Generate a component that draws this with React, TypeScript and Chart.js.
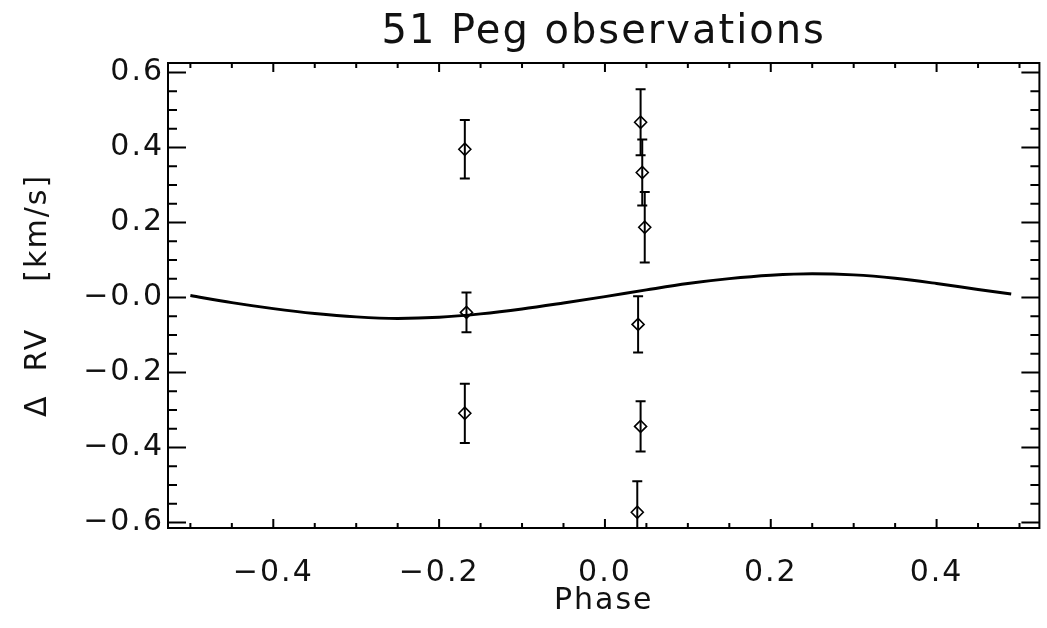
import React, { useEffect, useRef } from "react";
import { Chart, registerables } from "chart.js";

Chart.register(...registerables);

const TITLE = "51 Peg observations";
const X_TITLE = "Phase";
const Y_TITLE = "Δ  RV    [km/s]";

// Observations: phase, ΔRV [km/s], 1σ error
const PHASE_OBS = [-0.169, -0.167, -0.169, 0.043, 0.045, 0.048, 0.040, 0.043, 0.039];
const RV_OBS = [0.395, -0.040, -0.309, 0.467, 0.333, 0.187, -0.072, -0.344, -0.573];
const RV_ERR = [0.078, 0.053, 0.079, 0.088, 0.088, 0.094, 0.075, 0.067, 0.083];

// Orbit model curve
const PHASE_MODEL = [-0.5, -0.45, -0.4, -0.35, -0.3, -0.25, -0.2, -0.15, -0.1, -0.05, 0.0, 0.05, 0.1, 0.15, 0.2, 0.25, 0.3, 0.35, 0.4, 0.45, 0.49];
const RV_MODEL = [0.005, -0.014, -0.030, -0.043, -0.052, -0.056, -0.053, -0.044, -0.031, -0.015, 0.002, 0.020, 0.037, 0.050, 0.059, 0.063, 0.060, 0.051, 0.037, 0.021, 0.009];

const X_RANGE = [-0.527, 0.524];
const Y_RANGE = [-0.615, 0.625];

const X_TICKS = [-0.4, -0.2, 0.0, 0.2, 0.4];
const X_TICK_LABELS = ["−0.4", "−0.2", "0.0", "0.2", "0.4"];
const X_MINOR = [-0.5, -0.45, -0.35, -0.3, -0.25, -0.15, -0.1, -0.05, 0.05, 0.1, 0.15, 0.25, 0.3, 0.35, 0.45, 0.5];
const Y_TICKS = [-0.6, -0.4, -0.2, 0.0, 0.2, 0.4, 0.6];
const Y_TICK_LABELS = ["−0.6", "−0.4", "−0.2", "−0.0", "0.2", "0.4", "0.6"];
const Y_MINOR = [-0.55, -0.5, -0.45, -0.35, -0.3, -0.25, -0.15, -0.1, -0.05, 0.05, 0.1, 0.15, 0.25, 0.3, 0.35, 0.45, 0.5, 0.55];

const FONT = "DejaVu Sans";
const INK = "#111";

const labelFor = (ticks: number[], labels: string[], v: number) => {
  const i = ticks.findIndex((t) => Math.abs(t - v) < 1e-9);
  return i >= 0 ? labels[i] : "";
};

const idlFrame = {
  id: "idlFrame",
  beforeUpdate(chart: any) {
    chart.ctx.letterSpacing = "2px";
  },
  beforeDraw(chart: any) {
    chart.ctx.letterSpacing = "2px";
  },
  beforeDatasetsDraw(chart: any) {
    const { ctx, chartArea: a, scales } = chart;
    const xs = scales.x;
    const ys = scales.y;
    ctx.save();
    ctx.beginPath();
    ctx.rect(a.left, a.top, a.right - a.left, a.bottom - a.top);
    ctx.clip();
    ctx.strokeStyle = "#000";
    ctx.lineWidth = 2;
    PHASE_OBS.forEach((p, i) => {
      const x = xs.getPixelForValue(p);
      const y1 = ys.getPixelForValue(RV_OBS[i] + RV_ERR[i]);
      const y2 = ys.getPixelForValue(RV_OBS[i] - RV_ERR[i]);
      ctx.beginPath();
      ctx.moveTo(x, y1);
      ctx.lineTo(x, y2);
      ctx.moveTo(x - 5, y1);
      ctx.lineTo(x + 5, y1);
      ctx.moveTo(x - 5, y2);
      ctx.lineTo(x + 5, y2);
      ctx.stroke();
    });
    ctx.restore();
  },
  afterDraw(chart: any) {
    const { ctx, chartArea: a, scales } = chart;
    const xs = scales.x;
    const ys = scales.y;
    ctx.save();
    ctx.strokeStyle = "#000";
    ctx.lineWidth = 2;
    ctx.strokeRect(a.left, a.top, a.right - a.left, a.bottom - a.top);
    ctx.beginPath();
    const xTick = (v: number, len: number) => {
      const x = xs.getPixelForValue(v);
      ctx.moveTo(x, a.bottom);
      ctx.lineTo(x, a.bottom - len);
      ctx.moveTo(x, a.top);
      ctx.lineTo(x, a.top + len);
    };
    const yTick = (v: number, len: number) => {
      const y = ys.getPixelForValue(v);
      ctx.moveTo(a.left, y);
      ctx.lineTo(a.left + len, y);
      ctx.moveTo(a.right, y);
      ctx.lineTo(a.right - len, y);
    };
    X_TICKS.forEach((v) => xTick(v, 9));
    X_MINOR.forEach((v) => xTick(v, 5));
    Y_TICKS.forEach((v) => yTick(v, 18));
    Y_MINOR.forEach((v) => yTick(v, 9));
    ctx.stroke();
    ctx.restore();
  },
};

export default function App() {
  const ref = useRef<HTMLCanvasElement | null>(null);

  useEffect(() => {
    if (!ref.current) return;
    const chart = new Chart(ref.current, {
      type: "scatter",
      data: {
        datasets: [
          {
            type: "line",
            label: "model",
            data: PHASE_MODEL.map((x, i) => ({ x, y: RV_MODEL[i] })),
            borderColor: "#000",
            borderWidth: 3,
            pointRadius: 0,
            fill: false,
            cubicInterpolationMode: "monotone",
          } as any,
          {
            type: "scatter",
            label: "observations",
            data: PHASE_OBS.map((x, i) => ({ x, y: RV_OBS[i] })),
            pointStyle: "rectRot",
            pointRadius: 6,
            borderColor: "#000",
            backgroundColor: "rgba(0,0,0,0)",
            borderWidth: 1.6,
          } as any,
        ],
      },
      options: {
        animation: false,
        responsive: false,
        devicePixelRatio: 1,
        layout: { padding: { left: 0, right: 4, top: 0, bottom: 0 } },
        plugins: {
          legend: { display: false },
          tooltip: { enabled: false },
          title: {
            display: true,
            fullSize: false,
            text: TITLE,
            color: INK,
            font: { family: FONT, size: 40, weight: "normal" },
            padding: { top: 9, bottom: 6 },
          },
        },
        scales: {
          x: {
            type: "linear",
            min: X_RANGE[0],
            max: X_RANGE[1],
            grid: { display: false, drawTicks: false },
            border: { display: false },
            afterBuildTicks: (s: any) => {
              s.ticks = X_TICKS.map((v) => ({ value: v }));
            },
            afterFit: (s: any) => {
              s.height = 100;
              s.paddingLeft = 0;
              s.paddingRight = 0;
            },
            ticks: {
              color: INK,
              font: { family: FONT, size: 30 },
              padding: 27,
              maxRotation: 0,
              autoSkip: false,
              callback: (v: any) => labelFor(X_TICKS, X_TICK_LABELS, Number(v)),
            },
            title: {
              display: true,
              text: X_TITLE,
              color: INK,
              font: { family: FONT, size: 30 },
              padding: { top: 0, bottom: 9 },
            },
          },
          y: {
            type: "linear",
            min: Y_RANGE[0],
            max: Y_RANGE[1],
            grid: { display: false, drawTicks: false },
            border: { display: false },
            afterBuildTicks: (s: any) => {
              s.ticks = Y_TICKS.map((v) => ({ value: v }));
            },
            afterFit: (s: any) => {
              s.width = 168;
              s.paddingTop = 0;
              s.paddingBottom = 0;
            },
            ticks: {
              color: INK,
              font: { family: FONT, size: 30 },
              padding: 4,
              autoSkip: false,
              callback: (v: any) => labelFor(Y_TICKS, Y_TICK_LABELS, Number(v)),
            },
            title: {
              display: true,
              text: Y_TITLE,
              color: INK,
              font: { family: FONT, size: 30 },
              padding: { top: 20, bottom: 0 },
            },
          },
        },
      } as any,
      plugins: [idlFrame as any],
    });
    return () => chart.destroy();
  }, []);

  return (
    <div style={{ position: "absolute", left: 0, top: 0, width: 1047, height: 628, background: "#fff" }}>
      <canvas ref={ref} width={1047} height={628} style={{ width: 1047, height: 628, display: "block" }} />
    </div>
  );
}
